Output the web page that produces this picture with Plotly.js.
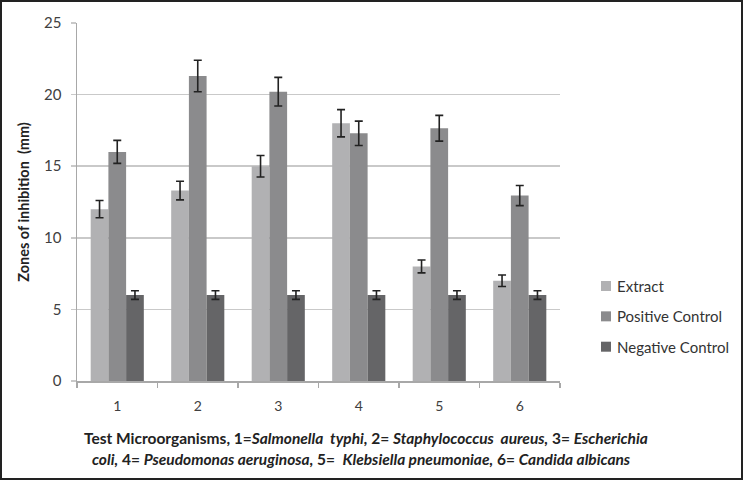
<!DOCTYPE html>
<html>
<head>
<meta charset="utf-8">
<script src="https://cdn.plot.ly/plotly-3.0.1.min.js"></script>
<style>
html,body{margin:0;padding:0;background:#fff;}
#wrap{position:relative;width:743px;height:480px;overflow:hidden;}
#chart{position:absolute;left:0;top:0;width:743px;height:480px;}
#frame{position:absolute;left:0;top:0;width:743px;height:480px;box-sizing:border-box;border:2px solid #222;pointer-events:none;}
</style>
</head>
<body>
<div id="wrap"><div id="chart"></div><div id="frame"></div></div>
<script>
const categories = ["1", "2", "3", "4", "5", "6"];
const extract = [12, 13.3, 15, 18, 8, 7];
const extractErr = [0.6, 0.65, 0.75, 0.95, 0.45, 0.4];
const positive = [16, 21.3, 20.2, 17.3, 17.65, 12.95];
const positiveErr = [0.8, 1.1, 1.0, 0.85, 0.9, 0.7];
const negative = [6, 6, 6, 6, 6, 6];
const negativeErr = [0.3, 0.3, 0.3, 0.3, 0.3, 0.3];
const seriesNames = ["Extract", "Positive Control", "Negative Control"];
const yTitle = "Zones of inhibition  (mm)";
const xTitleLine1 = "Test Microorganisms, 1=<i>Salmonella  typhi,</i> 2= <i>Staphylococcus  aureus,</i> 3= <i>Escherichia</i>";
const xTitleLine2 = "<i>coli,</i> 4= <i>Pseudomonas aeruginosa,</i> 5=  <i>Klebsiella pneumoniae,</i> 6= <i>Candida albicans</i>";

const colors = ["#b1b1b3", "#8b8b8d", "#656567"];
const errStyle = {type: "data", visible: true, color: "#222", thickness: 1.6, width: 4};

function mk(name, y, err, color) {
  return {
    type: "bar", name: name, x: categories, y: y,
    marker: {color: color, line: {width: 0}},
    error_y: Object.assign({array: err}, errStyle),
    hoverinfo: "x+y", showlegend: false
  };
}

const data = [
  mk(seriesNames[0], extract, extractErr, colors[0]),
  mk(seriesNames[1], positive, positiveErr, colors[1]),
  mk(seriesNames[2], negative, negativeErr, colors[2])
];

const font = "Lato, 'Open Sans', 'DejaVu Sans', sans-serif";

// custom legend (square swatch + label), placed in paper coords to the right of the plot
const legendX = 1.0849, legendTextX = 1.1139, legendY0 = 0.2654, legendStep = 0.0848;
const shapes = [];
const annotations = [];
seriesNames.forEach((nm, i) => {
  const yc = legendY0 - i * legendStep;
  shapes.push({type: "rect", xref: "paper", yref: "paper",
    xsizemode: "pixel", ysizemode: "pixel", xanchor: legendX, yanchor: yc,
    x0: 0, x1: 10, y0: -5, y1: 5, fillcolor: colors[i], line: {width: 0}});
  annotations.push({xref: "paper", yref: "paper", x: legendTextX, y: yc,
    xanchor: "left", yanchor: "middle", showarrow: false, text: nm,
    font: {family: font, size: 15, color: "#333"}});
});
annotations.push(
  {xref: "paper", yref: "paper", x: 0.598, y: -0.1606, xanchor: "center", yanchor: "middle",
   showarrow: false, text: "<b>" + xTitleLine1 + "</b>", font: {family: font, size: 15.5, color: "#222"}},
  {xref: "paper", yref: "paper", x: 0.59, y: -0.2179, xanchor: "center", yanchor: "middle",
   showarrow: false, text: "<b>" + xTitleLine2 + "</b>", font: {family: font, size: 15.5, color: "#222"}}
);

const layout = {
  width: 743, height: 480,
  margin: {l: 77, r: 183, t: 23, b: 99},
  paper_bgcolor: "#fff", plot_bgcolor: "#fff",
  font: {family: font, color: "#404040", size: 14},
  barmode: "group", bargap: 0.34, bargroupgap: 0,
  showlegend: false,
  xaxis: {
    type: "category",
    showgrid: false,
    showline: true, linecolor: "#a8a8a8", linewidth: 1.5,
    ticks: "outside", tickson: "boundaries", ticklen: 5, tickcolor: "#a8a8a8", tickwidth: 1.5,
    ticklabelstandoff: 12,
    tickfont: {family: font, size: 14, color: "#404040"},
    zeroline: false, fixedrange: true
  },
  yaxis: {
    range: [0, 25], dtick: 5, tick0: 0,
    showgrid: true, gridcolor: "#c9c9c9", gridwidth: 1.5,
    showline: true, linecolor: "#a8a8a8", linewidth: 1.5,
    ticks: "outside", ticklen: 5, tickcolor: "#c9c9c9", tickwidth: 1.5,
    ticklabelstandoff: 6,
    tickfont: {family: font, size: 15, color: "#404040"},
    zeroline: false, fixedrange: true,
    title: {text: "<b>" + yTitle + "</b>", font: {family: font, size: 14.5, color: "#222"}, standoff: 11}
  },
  shapes: shapes,
  annotations: annotations
};

Plotly.newPlot("chart", data, layout, {displayModeBar: false, staticPlot: true});
</script>
</body>
</html>
